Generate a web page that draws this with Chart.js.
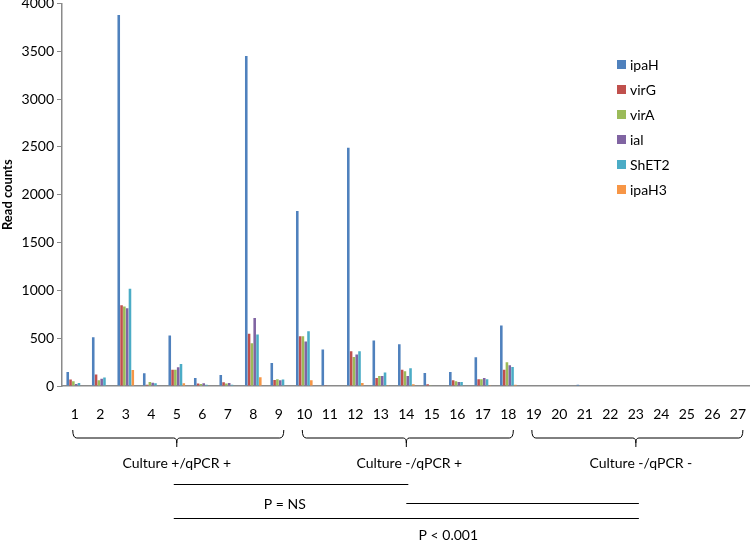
<!DOCTYPE html>
<html>
<head>
<meta charset="utf-8">
<script src="https://cdn.jsdelivr.net/npm/chart.js@4.4.0/dist/chart.umd.min.js"></script>
<style>
  body { margin: 0; background: #fff; overflow: hidden; width: 750px; height: 542px; }
  #wrap { position: absolute; left: 0; top: -8px; width: 758px; height: 550px; }
</style>
</head>
<body>
<div id="wrap"><canvas id="myChart"></canvas></div>
<script>
// samples 1..27
var amostras = ['1','2','3','4','5','6','7','8','9','10','11','12','13','14','15','16','17','18','19','20','21','22','23','24','25','26','27']

var ipaH  = [147, 510, 3880, 133, 528, 84, 115, 3450, 241, 1830, 381, 2490, 476, 437, 136, 147, 300, 632, 0, 0, 12, 0, 0, 0, 0, 0, 0]
var virG  = [67, 119, 845, 14, 171, 25, 39, 545, 63, 520, 7, 363, 84, 171, 18, 60, 70, 171, 0, 0, 0, 0, 0, 0, 0, 0, 0]
var virA  = [49, 60, 830, 42, 171, 21, 25, 447, 70, 520, 0, 304, 105, 154, 7, 49, 70, 248, 0, 0, 0, 0, 0, 0, 0, 0, 0]
var ial   = [21, 77, 814, 35, 196, 28, 32, 712, 60, 465, 0, 329, 105, 105, 4, 42, 84, 217, 0, 0, 0, 0, 0, 0, 0, 0, 0]
var ShET2 = [31, 88, 1016, 28, 230, 14, 14, 538, 67, 573, 0, 363, 140, 185, 0, 42, 70, 199, 0, 0, 0, 0, 0, 0, 0, 0, 0]
var ipaH3 = [0, 4, 168, 0, 28, 0, 0, 91, 0, 60, 0, 31, 3, 18, 0, 0, 3, 14, 0, 0, 0, 0, 0, 0, 0, 0, 0]

var yTicks = [0, 500, 1000, 1500, 2000, 2500, 3000, 3500, 4000]

var fonte = 'Lato, "Liberation Sans", sans-serif'
var DY = 8 // canvas is shifted up by 8px

function serie(nome, valores, cor){
  return { label: nome, data: valores, backgroundColor: cor, borderWidth: 0, barPercentage: 0.92, categoryPercentage: 0.66 }
}

// legend + brackets under the axis
const extras = {
  id: 'extras',
  afterDraw(chart){
    const c = chart.ctx
    const x = chart.scales.x
    const px = i => x.getPixelForValue(i)
    c.save()
    c.translate(0, DY)
    // legend
    c.font = '14px ' + fonte
    c.textBaseline = 'middle'
    c.textAlign = 'left'
    chart.data.datasets.forEach((ds, i) => {
      const y = 65 + i * 25
      c.fillStyle = ds.backgroundColor
      c.fillRect(617, y - 5, 9, 9)
      c.fillStyle = '#000'
      c.fillText(ds.label, 630, y)
    })

    c.strokeStyle = '#000'
    c.lineWidth = 1
    function chave(a, b, meio){
      const l = px(a) - 2, r = px(b) + 5, m = px(meio)
      c.beginPath()
      c.moveTo(l, 430); c.quadraticCurveTo(l, 438, l + 4, 438)
      c.lineTo(m - 3, 438); c.quadraticCurveTo(m, 438, m, 443); c.lineTo(m, 447)
      c.moveTo(m, 443); c.quadraticCurveTo(m, 438, m + 3, 438)
      c.lineTo(r - 4, 438); c.quadraticCurveTo(r, 438, r, 430)
      c.stroke()
    }
    chave(0, 8, 4)
    chave(9, 17, 13)
    chave(18, 26, 22)

    function linha(x1, x2, y){
      c.beginPath(); c.moveTo(x1, y + 0.5); c.lineTo(x2, y + 0.5); c.stroke()
    }
    linha(px(4) - 3, px(13) + 2, 484)
    linha(px(13), px(22) + 3, 503)
    linha(px(4) - 3, px(22) + 3, 518)

    c.fillStyle = '#000'
    c.textAlign = 'center'
    c.font = '14px ' + fonte
    c.fillText('Culture +/qPCR +', px(4), 463)
    c.fillText('Culture -/qPCR +', px(13) + 3, 463)
    c.fillText('Culture -/qPCR -', px(22) + 5, 463)
    c.fillText('P = NS', px(8) + 6, 504)
    c.fillText('P < 0.001', px(13) + 42, 535)
    c.restore()
  }
}

const ctx = document.getElementById('myChart')

const config = {
  type: 'bar',
  data: {
    labels: amostras,
    datasets: [
      serie('ipaH', ipaH, '#4F81BD'),
      serie('virG', virG, '#C0504D'),
      serie('virA', virA, '#9BBB59'),
      serie('ial', ial, '#8064A2'),
      serie('ShET2', ShET2, '#4BACC6'),
      serie('ipaH3', ipaH3, '#F79646')
    ]
  },
  options: {
    responsive: true,
    maintainAspectRatio: false,
    animation: false,
    layout: { padding: 0 },
    plugins: {
      legend: { display: false },
      tooltip: { enabled: false }
    },
    scales: {
      x: {
        grid: { display: false },
        border: { color: '#8a8a8a', width: 1.5 },
        ticks: { color: '#000', font: { family: fonte, size: 14 }, padding: 12, maxRotation: 0, autoSkip: false },
        afterFit: s => { s.height = 156 }
      },
      y: {
        min: 0,
        max: 4000,
        afterBuildTicks: s => { s.ticks = yTicks.map(v => ({ value: v })) },
        grid: { drawOnChartArea: false, tickLength: 5, color: '#8a8a8a' },
        border: { color: '#8a8a8a', width: 1.5 },
        ticks: { color: '#000', font: { family: fonte, size: 14 }, padding: 3, callback: v => String(v) },
        title: { display: true, text: 'Read counts', color: '#000', font: { family: fonte, size: 13, weight: 'bold' }, padding: 0 },
        afterFit: s => { s.width = 62 }
      }
    }
  },
  plugins: [extras]
}

const myChart = new Chart(ctx, config)
</script>
</body>
</html>
